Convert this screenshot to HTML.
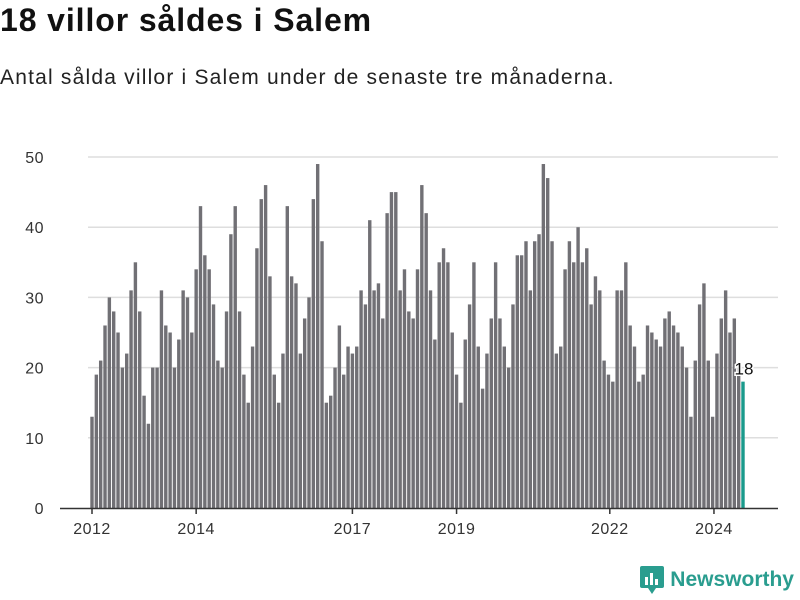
<!DOCTYPE html>
<html><head><meta charset="utf-8"><style>
body{margin:0;width:800px;height:600px;background:#fff;font-family:"Liberation Sans",sans-serif;overflow:hidden;position:relative}
#title{position:absolute;left:0;top:2px;font-size:32px;font-weight:bold;color:#111;letter-spacing:0.9px}
#sub{position:absolute;left:0;top:66px;font-size:21px;color:#222;letter-spacing:1.2px}
#logo{position:absolute;right:6px;bottom:6px;display:flex;align-items:center;gap:6px;font-size:21px;font-weight:bold;color:#2a9d8f}
</style></head><body>
<div id="title">18 villor såldes i Salem</div>
<div id="sub">Antal sålda villor i Salem under de senaste tre månaderna.</div>
<svg id="chart" width="800" height="600" style="position:absolute;left:0;top:0"></svg>
<div id="logo"><svg width="24" height="28" viewBox="0 0 24 28"><rect x="0" y="0" width="24" height="22" rx="2" fill="#2a9d8f"/><polygon points="8,22 16,22 12,28" fill="#2a9d8f"/><rect x="5" y="11" width="3" height="8" fill="#fff"/><rect x="10" y="7" width="3" height="12" fill="#fff"/><rect x="15" y="13" width="3" height="6" fill="#fff"/></svg><span>Newsworthy</span></div>
<script>
const values=[13,19,21,26,30,28,25,20,22,31,35,28,
16,12,20,20,31,26,25,20,24,31,30,25,
34,43,36,34,29,21,20,28,39,43,28,19,
15,23,37,44,46,33,19,15,22,43,33,32,
22,27,30,44,49,38,15,16,20,26,19,23,
22,23,31,29,41,31,32,27,42,45,45,31,
34,28,27,34,46,42,31,24,35,37,35,25,
19,15,24,29,35,23,17,22,27,35,27,23,
20,29,36,36,38,31,38,39,49,47,38,22,
23,34,38,35,40,35,37,29,33,31,21,19,
18,31,31,35,26,23,18,19,26,25,24,23,
27,28,26,25,23,20,13,21,29,32,21,13,
22,27,31,25,27,20,18];
const startYear=2012;
const xTickYears=[2012,2014,2017,2019,2022,2024];
const yTicks=[0,10,20,30,40,50];
const svg=document.getElementById('chart');
const NS='http://www.w3.org/2000/svg';
const y0=508,y50=157;
const y=v=>y0-(y0-y50)*v/50;
const n=values.length;
const x=i=>92+i*(743-92)/(n-1);
function mk(t,a){const e=document.createElementNS(NS,t);for(const k in a)e.setAttribute(k,a[k]);svg.appendChild(e);return e;}
yTicks.forEach(t=>{
 if(t>0){const g=mk('line',{x1:88,x2:778,y1:y(t),y2:y(t),stroke:'#dedede','stroke-width':1.5});
 
 }
 const l=mk('text',{x:44,y:y(t)+6,'text-anchor':'end','font-size':16,fill:'#333','font-family':'Liberation Sans, sans-serif','letter-spacing':0.5});
 l.textContent=t;
 
 
});
values.forEach((v,i)=>{
 const last=i===n-1;
 const r=mk('rect',{x:x(i)-1.7,y:y(v),width:3.4,height:y0-y(v),fill:last?'#1a9a8c':'#717075'});
 
 
});
const lv=mk('text',{x:x(n-1)+1,y:y(values[n-1])-7,'text-anchor':'middle','font-size':17,fill:'#111',stroke:'#fff','stroke-width':3,'paint-order':'stroke','font-family':'Liberation Sans, sans-serif'});
lv.textContent=values[n-1];


const ax=mk('line',{x1:60,x2:778,y1:y0+0.5,y2:y0+0.5,stroke:'#333','stroke-width':1.5});


xTickYears.forEach(yr=>{
 const xi=x((yr-startYear)*12)-(yr>=2020?3:0);
 const tk=mk('line',{x1:xi,x2:xi,y1:y0,y2:y0+6,stroke:'#333','stroke-width':1.5});
 
 
 const l=mk('text',{x:xi,y:y0+26,'text-anchor':'middle','font-size':16,fill:'#333','font-family':'Liberation Sans, sans-serif','letter-spacing':0.5});
 l.textContent=yr;
 
 
});
</script>
</body></html>
